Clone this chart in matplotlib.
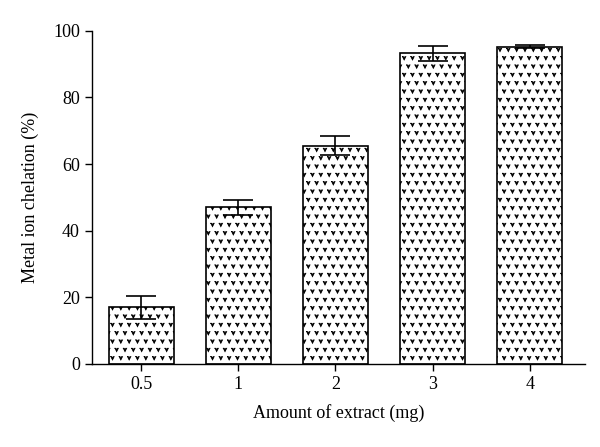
import numpy as np
import matplotlib
matplotlib.use("Agg")
import matplotlib.pyplot as plt
from matplotlib import hatch as mhatch
from matplotlib.path import Path

# data
amounts = ["0.5", "1", "2", "3", "4"]
chelation = [17.0, 47.0, 65.5, 93.2, 95.2]
errors = [3.5, 2.2, 2.9, 2.2, 0.5]


# small "v" texture like the original bars
class VHatch(mhatch.Shapes):
    size = 0.42
    filled = True

    def __init__(self, hatch, density):
        self.num_rows = hatch.count('v') * density
        self.shape_vertices = np.array([
            [-0.5, 0.5], [0.0, -0.5], [0.5, 0.5],
            [0.2, 0.5], [0.0, 0.0], [-0.2, 0.5], [-0.5, 0.5]])
        self.shape_codes = np.full(len(self.shape_vertices), Path.LINETO,
                                   dtype=Path.code_type)
        self.shape_codes[0] = Path.MOVETO
        super().__init__(hatch, density)


mhatch._hatch_types.append(VHatch)

plt.rcParams['font.family'] = ['Liberation Serif', 'DejaVu Serif']
plt.rcParams['hatch.linewidth'] = 0.5
plt.rcParams['hatch.color'] = '#222222'

fig = plt.figure(figsize=(6, 4.47), dpi=100)
ax = fig.add_axes([0.153, 0.186, 0.822, 0.745])

x = np.arange(len(amounts))
ax.bar(x, chelation, width=0.67, color='white', edgecolor='black',
       linewidth=1.2, hatch='vv')
ax.errorbar(x, chelation, yerr=errors, fmt='none', ecolor='black',
            elinewidth=1.2, capsize=11, capthick=1.2)

ax.set_xlim(-0.51, 4.57)
ax.set_ylim(0, 100)
ax.set_yticks([0, 20, 40, 60, 80, 100])
ax.set_xticks(x)
ax.set_xticklabels(amounts)
ax.spines['top'].set_visible(False)
ax.spines['right'].set_visible(False)
ax.spines['left'].set_linewidth(1.0)
ax.spines['bottom'].set_linewidth(1.0)
ax.tick_params(labelsize=13, length=5, width=1.0)
ax.set_xlabel("Amount of extract (mg)", fontsize=13, labelpad=8)
ax.set_ylabel("Metal ion chelation (%)", fontsize=13, labelpad=10)

fig.savefig("out.png", dpi=100)
